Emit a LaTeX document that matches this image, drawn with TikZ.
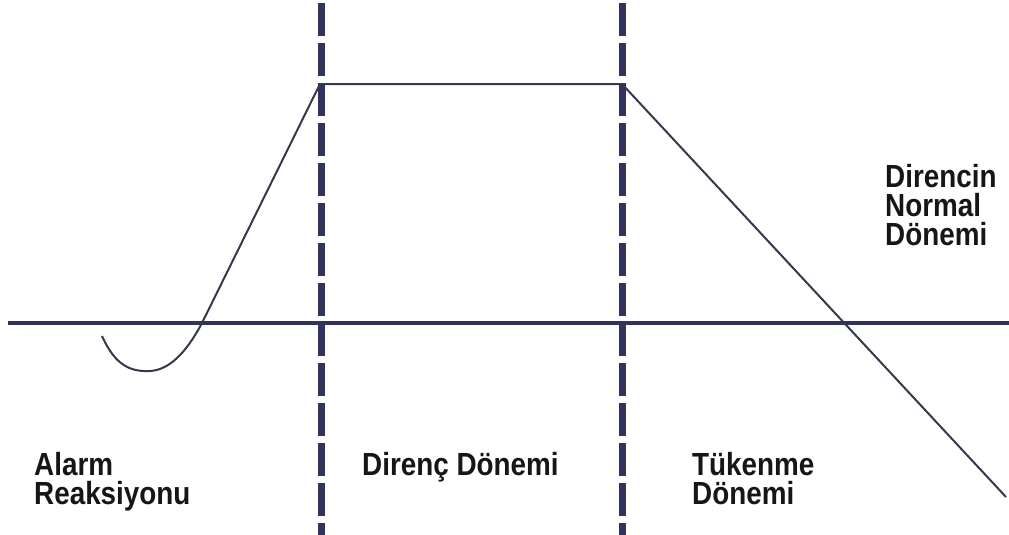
\documentclass[tikz,border=0pt]{standalone}
\usepackage{fontspec}
\newfontfamily\labfont{Liberation Sans}[FakeStretch=0.87]
\definecolor{navy}{RGB}{50,50,95}
\definecolor{curvecol}{RGB}{55,55,78}
\definecolor{txt}{RGB}{22,22,22}
\begin{document}
\begin{tikzpicture}[x=1pt,y=-1pt,
 axisline/.style={navy, line width=3.5pt},
 divider/.style={navy, line width=7pt, dash pattern=on 33pt off 7pt},
 curve/.style={curvecol, line width=2pt, line join=round},
 lab/.style={inner sep=0pt, anchor=base west, align=left, text=txt, font=\labfont\bfseries\fontsize{32}{29}\selectfont}]
\useasboundingbox (0,0) rectangle (1009,535);
\coordinate (hL) at (8,323);
\coordinate (hR) at (1009,323);
\coordinate (d1t) at (321,3);
\coordinate (d1b) at (321,535);
\coordinate (d2t) at (622,3);
\coordinate (d2b) at (622,535);
\draw[axisline] (hL) -- (hR);
\draw[divider] (d1t) -- (d1b);
\draw[divider] (d2t) -- (d2b);
\coordinate (c0) at (102,336);
\coordinate (cmin) at (150,371);
\coordinate (cx) at (202,323);
\coordinate (p1) at (320,84);
\coordinate (p2) at (622,84);
\coordinate (e) at (1006,497);
\draw[curve] (c0) .. controls (115,365) and (130,372) .. (cmin) .. controls (168,370) and (185,355) .. (cx) -- (p1) -- (p2) -- (e);
\node[lab] (alarm) at (34,504) {Alarm\\Reaksiyonu};
\node[lab] (direnc) at (362,475) {Direnç Dönemi};
\node[lab] (tukenme) at (692,504) {Tükenme\\Dönemi};
\node[lab] (normal) at (885,245) {Direncin\\Normal\\Dönemi};
\end{tikzpicture}
\end{document}
